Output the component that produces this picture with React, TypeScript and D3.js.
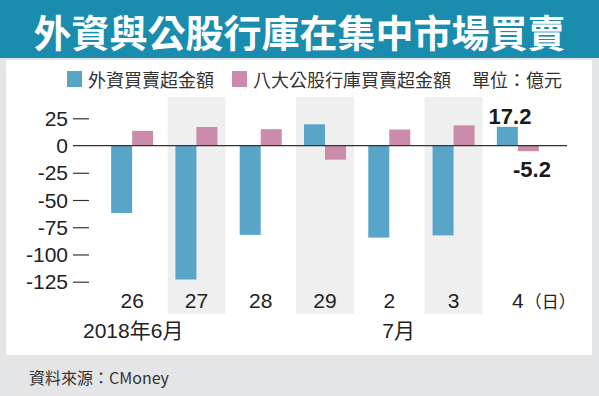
import { useEffect, useRef } from 'react';
import * as d3 from 'd3';

const W = 599;
const H = 396;

// data (億元)
const days = ['26', '27', '28', '29', '2', '3', '4'];
const foreignNet = [-62, -123, -82, 19.5, -84.5, -82.5, 17.2];
const bankNet = [13.5, 17, 15, -13, 14.7, 18.5, -5.2];
const seriesNames = ['外資買賣超金額', '八大公股行庫買賣超金額'];
const yTicks = [25, 0, -25, -50, -75, -100, -125];

const BLUE = '#58a5c7';
const PINK = '#cb8bab';
const SANS = '"Liberation Sans", Arial, "Noto Sans CJK TC", sans-serif';
const CJK = '"Noto Sans CJK TC", "Noto Sans CJK SC", sans-serif';

function App() {
    const node = useRef<SVGSVGElement>(null);
    useEffect(() => {
        if (!node.current) return;
        const svg = d3.select(node.current);
        svg.selectAll('*').remove();

        // backgrounds
        svg.append('rect').attr('width', W).attr('height', H).attr('fill', '#e4e5e6');
        svg.append('rect').attr('width', W).attr('height', 58).attr('fill', '#1a8cae');
        svg.append('rect').attr('x', 6).attr('y', 60).attr('width', 586).attr('height', 295).attr('fill', '#fff');

        svg.append('text').text('外資與公股行庫在集中市場買賣')
            .attr('x', W / 2).attr('y', 30).attr('text-anchor', 'middle')
            .attr('dominant-baseline', 'central')
            .attr('font-family', CJK).attr('font-weight', 700).attr('font-size', 38)
            .attr('fill', '#fff');

        // legend
        const legend = [
            { x: 67, color: BLUE, label: seriesNames[0] },
            { x: 232, color: PINK, label: seriesNames[1] },
        ];
        legend.forEach(l => {
            svg.append('rect').attr('x', l.x).attr('y', 71).attr('width', 15).attr('height', 16).attr('fill', l.color);
            svg.append('text').text(l.label).attr('x', l.x + 21).attr('y', 79)
                .attr('dominant-baseline', 'central').attr('font-family', CJK)
                .attr('font-size', 18).attr('fill', '#333');
        });
        svg.append('text').text('單位：億元').attr('x', 562).attr('y', 79)
            .attr('text-anchor', 'end').attr('dominant-baseline', 'central')
            .attr('font-family', CJK).attr('font-size', 18).attr('fill', '#333');

        const x = d3.scaleBand().domain(days).range([100, 550]).paddingInner(0.1).paddingOuter(0.05);
        const inner = d3.scaleBand().domain(['foreign', 'bank']).range([-21, 21]);
        const y = d3.scaleLinear().domain([-125, 25]).range([281.7, 118.3]);

        // alternating shaded columns
        svg.append('g').selectAll('rect')
            .data(days.filter((_, i) => i % 2 === 1))
            .enter().append('rect')
            .attr('x', d => x(d)!)
            .attr('width', x.bandwidth())
            .attr('y', 97).attr('height', 217)
            .attr('fill', '#efefef');

        // y axis
        const yAxisG = svg.append('g')
            .attr('transform', 'translate(89,0)')
            .call(d3.axisLeft(y).tickValues(yTicks).tickSize(16).tickPadding(5).tickFormat(d => String(d)));
        yAxisG.select('.domain').remove();
        yAxisG.selectAll('.tick line').attr('stroke', '#333').attr('stroke-width', 1.2)
            .attr('display', (d: any) => (d === 0 ? 'none' : null));
        yAxisG.selectAll('.tick text').attr('font-family', SANS).attr('font-size', 21)
            .attr('fill', '#222').attr('dy', '0.34em');

        // bars
        const rows = days.map((d, i) => ({ day: d, foreign: foreignNet[i], bank: bankNet[i] }));
        const keys: ('foreign' | 'bank')[] = ['foreign', 'bank'];
        keys.forEach((k, ki) => {
            svg.append('g').selectAll('rect')
                .data(rows).enter().append('rect')
                .attr('x', d => x(d.day)! + x.bandwidth() / 2 + inner(k)!)
                .attr('width', inner.bandwidth())
                .attr('y', d => y(Math.max(0, d[k])))
                .attr('height', d => Math.abs(y(d[k]) - y(0)))
                .attr('fill', ki === 0 ? BLUE : PINK);
        });

        // zero line
        svg.append('line').attr('x1', 73).attr('x2', 567)
            .attr('y1', y(0)).attr('y2', y(0))
            .attr('stroke', '#333').attr('stroke-width', 1.2);

        // category labels
        svg.append('g').selectAll('text')
            .data(days).enter().append('text')
            .attr('x', d => x(d)! + x.bandwidth() / 2)
            .attr('y', 300).attr('text-anchor', 'middle').attr('dominant-baseline', 'central')
            .attr('font-family', SANS).attr('font-size', 21).attr('fill', '#222')
            .text(d => d);
        const last = days[days.length - 1];
        svg.append('text').text('（日）')
            .attr('x', x(last)! + x.bandwidth() / 2 + 7).attr('y', 300)
            .attr('dominant-baseline', 'central').attr('font-family', CJK)
            .attr('font-size', 17).attr('fill', '#222');

        svg.append('text').text('2018年6月').attr('x', 83).attr('y', 330)
            .attr('dominant-baseline', 'central').attr('font-family', SANS)
            .attr('font-size', 21).attr('fill', '#222');
        svg.append('text').text('7月').attr('x', x('2')! + x.bandwidth() / 2 - 7).attr('y', 330)
            .attr('dominant-baseline', 'central').attr('font-family', SANS)
            .attr('font-size', 21).attr('fill', '#222');

        // value callouts for the latest day
        const lastI = days.length - 1;
        svg.append('text').text(String(foreignNet[lastI]))
            .attr('x', 510).attr('y', y(foreignNet[lastI]) - 10)
            .attr('text-anchor', 'middle').attr('dominant-baseline', 'central')
            .attr('font-family', SANS).attr('font-weight', 700).attr('font-size', 22).attr('fill', '#1a1a1a');
        svg.append('text').text(String(bankNet[lastI]))
            .attr('x', 532).attr('y', y(bankNet[lastI]) + 18)
            .attr('text-anchor', 'middle').attr('dominant-baseline', 'central')
            .attr('font-family', SANS).attr('font-weight', 700).attr('font-size', 22).attr('fill', '#1a1a1a');

        // source
        svg.append('text').text('資料來源：CMoney').attr('x', 29).attr('y', 377)
            .attr('dominant-baseline', 'central').attr('font-family', CJK)
            .attr('font-size', 16).attr('fill', '#333');
    }, [node]);

    return (
        <svg ref={node} width={W} height={H}
            style={{ position: 'absolute', left: 0, top: 0, display: 'block' }}></svg>
    );
}

export default App;
